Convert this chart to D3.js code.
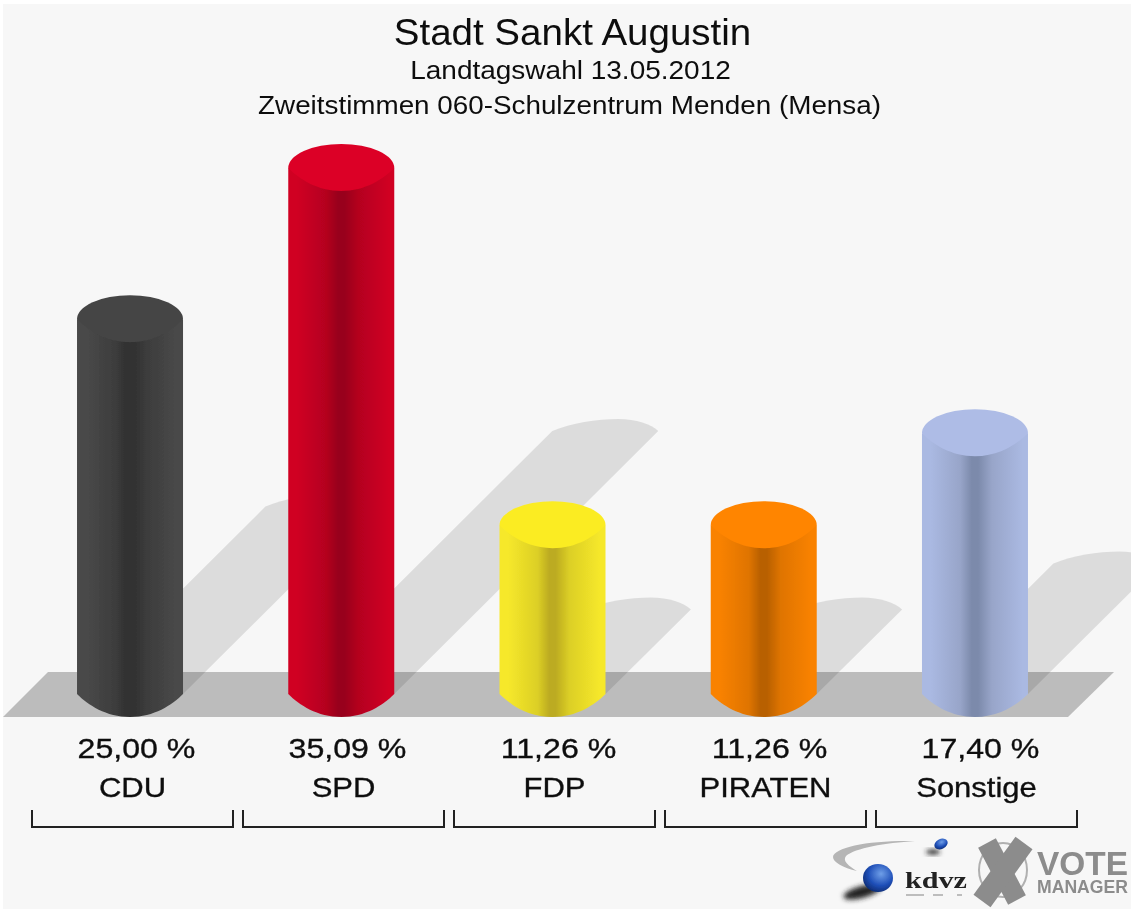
<!DOCTYPE html>
<html><head><meta charset="utf-8">
<script src="https://cdn.jsdelivr.net/npm/d3@7"></script>
<style>html,body{margin:0;padding:0;background:#fff}svg{display:block}text{font-family:"Liberation Sans",Arial,sans-serif}</style>
</head><body><div id="chart"></div>
<script>
const categories=["CDU","SPD","FDP","PIRATEN","Sonstige"];
const percentValues=[25.00,35.09,11.26,11.26,17.40];
const percentLabels=["25,00 %","35,09 %","11,26 %","11,26 %","17,40 %"];
const edgeColors=["#494949","#d00024","#f6e82a","#f98200","#aab9e2"];
const centerColors=["#303030","#98001a","#bcab20","#b86000","#7c8aab"];
const midColors=["#3d3d3d","#b4001f","#dccf26","#df7400","#98a5c9"];
const topColors=["#454545","#dc0026","#fbec24","#ff8500","#aebce6"];
const titleLines=["Stadt Sankt Augustin","Landtagswahl 13.05.2012","Zweitstimmen 060-Schulzentrum Menden (Mensa)"];

const W=1131,H=909,base=694,rw=53,ry=23;
const svg=d3.select("#chart").append("svg").attr("width",W).attr("height",H);
const defs=svg.append("defs");
defs.append("filter").attr("id","soft").attr("x","-5%").attr("y","-5%").attr("width","110%").attr("height","110%")
  .append("feGaussianBlur").attr("stdDeviation",0.6);
svg.append("rect").attr("width",W).attr("height",H).attr("fill","#fff");
svg.append("rect").attr("x",3).attr("y",4).attr("width",W-3).attr("height",H-4).attr("fill","#f7f7f7");
const root=svg.append("g").attr("filter","url(#soft)");

const xBars=d3.scaleBand().domain(categories).range([24.4,1080.6]);
const xLabels=d3.scaleBand().domain(categories).range([27,1082]);
const y=d3.scaleLinear().domain([0,35.09]).range([0,526]);

// floor
root.append("path").attr("d",d3.line()([[48,672],[1114,672],[1068,717],[3,717]])).attr("fill","#bcbcbc");

const cx=c=>xBars(c)+xBars.bandwidth()/2;
const data=categories.map((c,i)=>({c,i,v:percentValues[i],h:y(percentValues[i])}));

// shadows
root.append("g").selectAll("path").data(data).join("path")
 .attr("fill","#000").attr("fill-opacity",0.105)
 .attr("d",d=>{const x=cx(d.c),o=d.h/2,t=base-o,m=x+o;
   return `M${x-rw},${base}L${m-52},${t}C${m-33},${t-8} ${m-8},${t-12} ${m+14},${t-12}C${m+32},${t-12} ${m+47},${t-7} ${m+54},${t}L${x+rw},${base}Z`;});

// gradients
data.forEach(d=>{
 const g=defs.append("linearGradient").attr("id","g"+d.i);
 [[0,edgeColors[d.i]],[0.08,edgeColors[d.i]],[0.36,midColors[d.i]],[0.47,centerColors[d.i]],[0.53,centerColors[d.i]],[0.66,midColors[d.i]],[0.95,edgeColors[d.i]],[1,edgeColors[d.i]]]
  .forEach(s=>g.append("stop").attr("offset",s[0]).attr("stop-color",s[1]));
});
// lower rim of a cylinder section, left to right
const rim=(x,b)=>`C${x-42},${b+11} ${x-24},${b+ry} ${x},${b+ry}C${x+24},${b+ry} ${x+42},${b+11} ${x+rw},${b}`;
const cyl=root.append("g").selectAll("g").data(data).join("g");
cyl.append("path").attr("fill",d=>`url(#g${d.i})`)
 .attr("d",d=>{const x=cx(d.c),t=base-d.h;
   return `M${x-rw},${t}L${x-rw},${base}${rim(x,base)}L${x+rw},${t}Z`;});
cyl.append("path").attr("fill",d=>topColors[d.i])
 .attr("d",d=>{const x=cx(d.c),t=base-d.h;
   return `M${x-rw},${t}A${rw},24 0 0 1 ${x+rw},${t}C${x+42},${t+11} ${x+24},${t+ry} ${x},${t+ry}C${x-24},${t+ry} ${x-42},${t+11} ${x-rw},${t}Z`;});

// stretched text helper
const put=(g,x,yy,size,sx,str)=>g.append("text").attr("text-anchor","middle").attr("font-size",size)
  .attr("transform",`translate(${x},${yy}) scale(${sx},1)`).text(str);
const tt=root.append("g").attr("fill","#111");
put(tt,572.5,45,36,1.07,titleLines[0]);
put(tt,570.5,79,26.5,1.057,titleLines[1]);
put(tt,569.5,114,26.5,1.05,titleLines[2]);

// labels
const lx=c=>xLabels(c)+xLabels.bandwidth()/2;
const lab=root.append("g").attr("fill","#111").attr("stroke","#111").attr("stroke-width",0.35);
data.forEach(d=>{
  put(lab,lx(d.c)+4,758,28,1.147,percentLabels[d.i]);
  put(lab,lx(d.c),797,28,1.107,d.c);
});
// brackets
root.append("g").selectAll("path").data(data).join("path").attr("fill","none").attr("stroke","#222").attr("stroke-width",2)
 .attr("d",d=>{const a=xLabels(d.c)+5,b=a+xLabels.bandwidth()-10;return `M${a},810V827H${b}V810`;});

// logos
const logo=root.append("g");
const sph=defs.append("radialGradient").attr("id","sph").attr("cx","0.6").attr("cy","0.35").attr("r","0.7");
sph.append("stop").attr("offset",0).attr("stop-color","#6f9fe8");
sph.append("stop").attr("offset",0.6).attr("stop-color","#1f4fb8");
sph.append("stop").attr("offset",1).attr("stop-color","#0c2a70");
defs.append("filter").attr("id","sb").attr("x","-50%").attr("y","-50%").attr("width","200%").attr("height","200%").append("feGaussianBlur").attr("stdDeviation",2.5);
logo.append("path").attr("d","M915,841C870,840 834,847 833,857C833,862 843,868 857,871C849,866 842,861 846,856C855,848 885,843 915,841Z").attr("fill","#b5b5b5");
logo.append("ellipse").attr("cx",862).attr("cy",892).attr("rx",19).attr("ry",6).attr("fill","#222").attr("filter","url(#sb)").attr("transform","rotate(-15 862 892)");
logo.append("ellipse").attr("cx",878).attr("cy",878).attr("rx",15).attr("ry",14).attr("fill","url(#sph)");
logo.append("ellipse").attr("cx",933).attr("cy",852).attr("rx",7).attr("ry",2.5).attr("fill","#222").attr("filter","url(#sb)");
logo.append("ellipse").attr("cx",941).attr("cy",844).attr("rx",7).attr("ry",5).attr("fill","url(#sph)").attr("transform","rotate(-25 941 844)");
logo.append("text").attr("x",905).attr("y",888).attr("font-size",23).attr("font-weight","bold").style("font-family","'Liberation Serif',serif").attr("fill","#222").attr("textLength",62).attr("lengthAdjust","spacingAndGlyphs").text("kdvz");
logo.append("path").attr("d","M906,895H924M933,895H943M957,895H962").attr("stroke","#aaa").attr("stroke-width",1.5);
logo.append("ellipse").attr("cx",1003).attr("cy",870).attr("rx",24).attr("ry",27).attr("fill","none").attr("stroke","#b0b0b0").attr("stroke-width",2);
logo.append("path").attr("d","M987,843L1017,900").attr("stroke","#8c8c8c").attr("stroke-width",20).attr("fill","none");
logo.append("path").attr("d","M1024,843L982,901").attr("stroke","#8c8c8c").attr("stroke-width",21).attr("fill","none");
logo.append("text").attr("x",1037).attr("y",875).attr("font-size",33).attr("font-weight","bold").attr("fill","#8c8c8c").attr("textLength",91).attr("lengthAdjust","spacingAndGlyphs").text("VOTE");
logo.append("text").attr("x",1037).attr("y",893).attr("font-size",18).attr("font-weight","bold").attr("fill","#8c8c8c").attr("textLength",91).attr("lengthAdjust","spacingAndGlyphs").text("MANAGER");
</script></body></html>
